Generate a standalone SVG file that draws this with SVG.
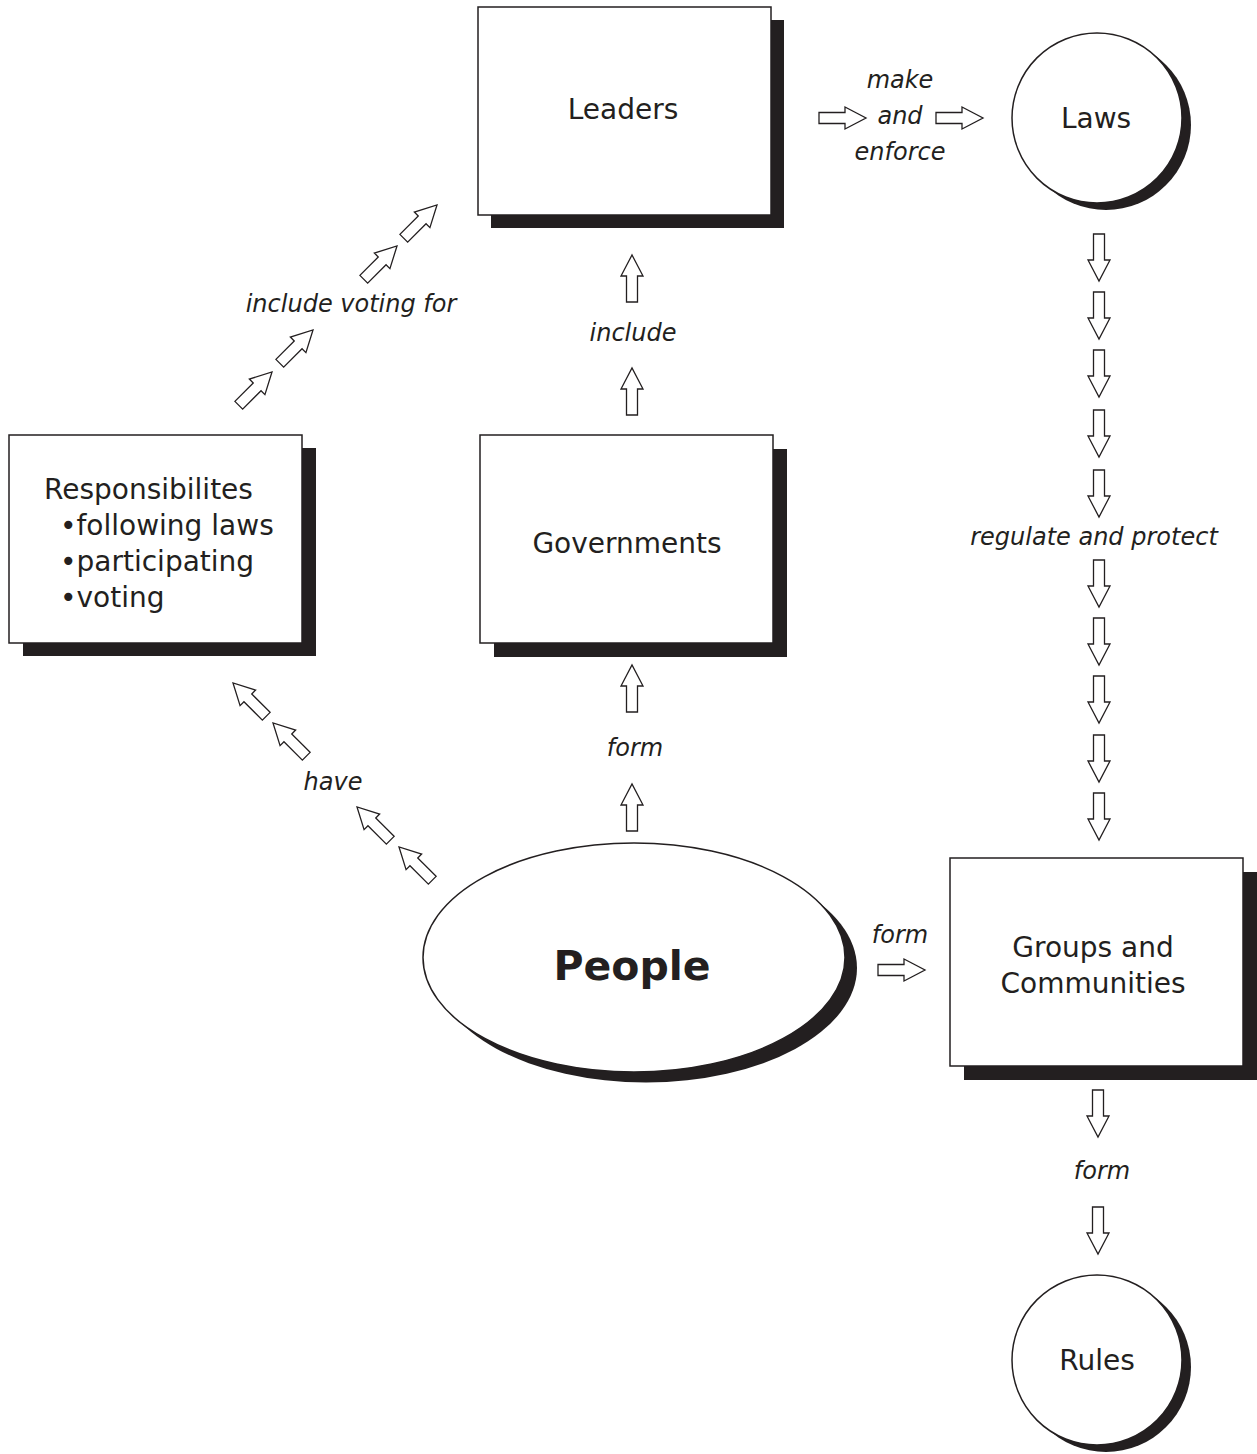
<svg xmlns="http://www.w3.org/2000/svg" xmlns:xlink="http://www.w3.org/1999/xlink" width="1257" height="1454" viewBox="0 0 1257 1454">
<style>
.box{fill:#fff;stroke:#231f20;stroke-width:1.5}
.sh{fill:#231f20}
.arr{fill:#fff;stroke:#231f20;stroke-width:1.3;stroke-linejoin:miter}
.t{font-family:"DejaVu Sans","Noto Sans",sans-serif;font-size:28px;fill:#231f20;text-anchor:middle}
.lab{font-family:"DejaVu Sans","Noto Sans",sans-serif;font-size:24px;font-style:italic;fill:#231f20;text-anchor:middle}
.big{font-family:"DejaVu Sans","Noto Sans",sans-serif;font-size:41px;font-weight:bold;fill:#231f20;text-anchor:middle}
</style>
<defs>
<path id="a" class="arr" d="M-47,-5.5 H-21 V-11 L0,0 L-21,11 V5.5 H-47 Z"/>
</defs>
<rect width="1257" height="1454" fill="#fff"/>
<g id="connectors">
<use xlink:href="#a" transform="translate(866,118)"/>
<use xlink:href="#a" transform="translate(983,118)"/>
<use xlink:href="#a" transform="translate(925,970)"/>
<use xlink:href="#a" transform="translate(632,255) rotate(-90)"/>
<use xlink:href="#a" transform="translate(632,368) rotate(-90)"/>
<use xlink:href="#a" transform="translate(632,665) rotate(-90)"/>
<use xlink:href="#a" transform="translate(632,784) rotate(-90)"/>
<use xlink:href="#a" transform="translate(1099,281) rotate(90)"/>
<use xlink:href="#a" transform="translate(1099,339) rotate(90)"/>
<use xlink:href="#a" transform="translate(1099,397) rotate(90)"/>
<use xlink:href="#a" transform="translate(1099,457) rotate(90)"/>
<use xlink:href="#a" transform="translate(1099,517) rotate(90)"/>
<use xlink:href="#a" transform="translate(1099,607) rotate(90)"/>
<use xlink:href="#a" transform="translate(1099,665) rotate(90)"/>
<use xlink:href="#a" transform="translate(1099,723) rotate(90)"/>
<use xlink:href="#a" transform="translate(1099,782) rotate(90)"/>
<use xlink:href="#a" transform="translate(1099,840) rotate(90)"/>
<use xlink:href="#a" transform="translate(1098,1137) rotate(90)"/>
<use xlink:href="#a" transform="translate(1098,1254) rotate(90)"/>
<use xlink:href="#a" transform="translate(272,372) rotate(-45)"/>
<use xlink:href="#a" transform="translate(313,330) rotate(-45)"/>
<use xlink:href="#a" transform="translate(397,246) rotate(-45)"/>
<use xlink:href="#a" transform="translate(437,205) rotate(-45)"/>
<use xlink:href="#a" transform="translate(233,683) rotate(-135)"/>
<use xlink:href="#a" transform="translate(273,723) rotate(-135)"/>
<use xlink:href="#a" transform="translate(357,807) rotate(-135)"/>
<use xlink:href="#a" transform="translate(399,847) rotate(-135)"/>
<text class="lab" x="900" y="88">make</text>
<text class="lab" x="900" y="124">and</text>
<text class="lab" x="900" y="160">enforce</text>
<text class="lab" x="633" y="341">include</text>
<text class="lab" x="635" y="756">form</text>
<text class="lab" x="900" y="943">form</text>
<text class="lab" x="1102" y="1179">form</text>
<text class="lab" x="333" y="790">have</text>
<text class="lab" x="351" y="312">include voting for</text>
<text class="lab" x="1094" y="545">regulate and protect</text>
</g>
<g id="leaders">
<rect class="sh" x="491" y="20" width="293" height="208"/>
<rect class="box" x="478" y="7" width="293" height="208"/>
<text class="t" x="623" y="119">Leaders</text>
</g>
<g id="laws">
<circle class="sh" cx="1106" cy="125" r="85"/>
<circle class="box" cx="1097" cy="118" r="85"/>
<text class="t" x="1096" y="128">Laws</text>
</g>
<g id="governments">
<rect class="sh" x="494" y="449" width="293" height="208"/>
<rect class="box" x="480" y="435" width="293" height="208"/>
<text class="t" x="627" y="553">Governments</text>
</g>
<g id="responsibilities">
<rect class="sh" x="23" y="448" width="293" height="208"/>
<rect class="box" x="9" y="435" width="293" height="208"/>
<text class="t" style="text-anchor:start" x="44" y="499">Responsibilites</text>
<text class="t" style="text-anchor:start" x="60" y="535">•following laws</text>
<text class="t" style="text-anchor:start" x="60" y="571">•participating</text>
<text class="t" style="text-anchor:start" x="60" y="607">•voting</text>
</g>
<g id="people">
<ellipse class="sh" cx="646" cy="968" rx="211" ry="114.5"/>
<ellipse class="box" cx="634" cy="957.5" rx="211" ry="114.5"/>
<text class="big" x="632" y="980">People</text>
</g>
<g id="groups">
<rect class="sh" x="964" y="872" width="293" height="208"/>
<rect class="box" x="950" y="858" width="293" height="208"/>
<text class="t" x="1093" y="957">Groups and</text>
<text class="t" x="1093" y="993">Communities</text>
</g>
<g id="rules">
<circle class="sh" cx="1106" cy="1367" r="85"/>
<circle class="box" cx="1097" cy="1360" r="85"/>
<text class="t" x="1097" y="1370">Rules</text>
</g>
</svg>
